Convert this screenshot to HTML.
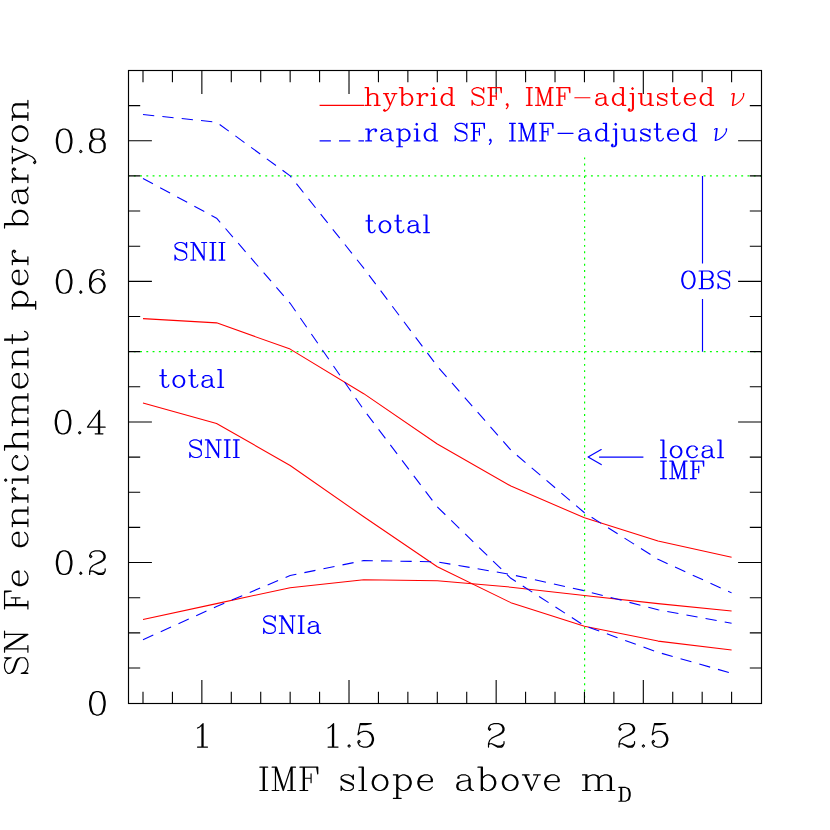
<!DOCTYPE html>
<html lang="en">
<head>
<meta charset="utf-8">
<title>SN Fe enrichment per baryon vs IMF slope above mD</title>
<style>
html,body{margin:0;padding:0;background:#fff;}
body{width:830px;height:830px;overflow:hidden;font-family:"Liberation Serif",serif;}
svg{display:block;}
svg text{font-family:"Liberation Serif",serif;fill:#000;fill-opacity:0;stroke:none;}
#glyphs use, defs path{vector-effect:non-scaling-stroke;}
</style>
</head>
<body>
<svg width="830" height="830" viewBox="0 0 830 830">
<rect width="830" height="830" fill="#fff"/>
<defs><path id="g0" d="M9 -21 6 -20 4 -17 3 -12 3 -9 4 -4 6 -1 9 0 7 -1 6 -2 5 -4 4 -9 4 -12 5 -17 6 -19 7 -20 9 -21 11 -21 14 -20 16 -17 17 -12 17 -9 16 -4 14 -1 11 0 13 -1 14 -2 15 -4 16 -9 16 -12 15 -17 14 -19 13 -20 11 -21M9 0 11 0"/><path id="g1" d="M5 -2 4 -1 5 0 6 -1 5 -2"/><path id="g2" d="M6 -3 11 0 15 0 16 -1 17 -3 17 -5M6 -3 11 -1 14 -1 16 -2 17 -3M6 -3 4 -3 3 -2M8 -9 13 -11 16 -13 17 -15 17 -17 16 -19 15 -20 12 -21 8 -21 5 -20 4 -19 3 -17 3 -16 4 -15 5 -16 4 -17M12 -21 14 -20 15 -19 16 -17 16 -15 15 -13 12 -11 6 -8 4 -6 3 -3 3 0"/><path id="g3" d="M13 0 13 -21 2 -6 18 -6M12 -19 12 0M9 0 16 0"/><path id="g4" d="M10 -21 7 -20 5 -18 4 -16 3 -12 3 -6 4 -3 6 -1 9 0 7 -1 5 -3 4 -6 4 -12 5 -16 6 -18 8 -20 10 -21 13 -21 15 -20 16 -18 16 -17 15 -16 14 -17 15 -18M11 -13 14 -12 16 -10 17 -7 17 -6 16 -3 14 -1 11 0 13 -1 15 -3 16 -6 16 -7 15 -10 13 -12 11 -13 10 -13 7 -12 5 -10 4 -7M9 0 11 0"/><path id="g5" d="M8 -21 12 -21 15 -20 16 -18 16 -15 15 -13 12 -12 8 -12 5 -13 4 -15 4 -18 5 -20 8 -21 6 -20 5 -18 5 -15 6 -13 8 -12 5 -11 4 -10 3 -8 3 -4 4 -2 5 -1 8 0 12 0 15 -1 16 -2 17 -4 17 -8 16 -10 15 -11 12 -12 14 -13 15 -15 15 -18 14 -20 12 -21M8 -12 6 -11 5 -10 4 -8 4 -4 5 -2 6 -1 8 0M12 -12 14 -11 15 -10 16 -8 16 -4 15 -2 14 -1 12 0"/><path id="g6" d="M11 0 11 -21 8 -18 6 -17M10 -20 10 0M6 0 15 0"/><path id="g7" d="M5 -20 10 -20 15 -21 5 -21 3 -11 5 -13 8 -14 11 -14 14 -13 16 -11 17 -8 17 -6 16 -3 14 -1 11 0 8 0 5 -1 4 -2 3 -4 3 -5 4 -6 5 -5 4 -4M11 -14 13 -13 15 -11 16 -8 16 -6 15 -3 13 -1 11 0"/><path id="g8" d="M5 -21 5 0M6 -21 6 0M2 -21 9 -21M2 0 9 0"/><path id="g9" d="M19 -21 12 0 5 -21 5 0M19 -21 19 0M19 -21 23 -21M20 -21 20 0M12 -3 6 -21 2 -21M16 0 23 0M2 0 8 0"/><path id="g10" d="M5 -21 5 0M6 -21 6 0M2 -21 18 -21 18 -15 17 -21M12 -15 12 -7M2 0 9 0M6 -11 12 -11"/><path id="g11" d="M13 -12 14 -14 14 -10 13 -12 12 -13 10 -14 6 -14 4 -13 3 -12 3 -10 4 -9 6 -8 11 -6 13 -5 14 -4M4 -2 3 -4 3 0 4 -2 5 -1 7 0 11 0 13 -1 14 -2 14 -5 13 -6 11 -7 6 -9 4 -10 3 -11"/><path id="g12" d="M5 -21 5 0M6 0 6 -21 2 -21M2 0 9 0"/><path id="g13" d="M9 -14 6 -13 4 -11 3 -8 3 -6 4 -3 6 -1 9 0 7 -1 5 -3 4 -6 4 -8 5 -11 7 -13 9 -14 11 -14 14 -13 16 -11 17 -8 17 -6 16 -3 14 -1 11 0 13 -1 15 -3 16 -6 16 -8 15 -11 13 -13 11 -14M9 0 11 0"/><path id="g14" d="M5 -14 5 7M6 7 6 -14 2 -14M2 7 9 7M12 -14 15 -13 17 -11 18 -8 18 -6 17 -3 15 -1 12 0 14 -1 16 -3 17 -6 17 -8 16 -11 14 -13 12 -14 10 -14 8 -13 6 -11M12 0 10 0 8 -1 6 -3"/><path id="g15" d="M4 -8 16 -8 16 -10 15 -12 14 -13 12 -14 9 -14 6 -13 4 -11 3 -8 3 -6 4 -3 6 -1 9 0 7 -1 5 -3 4 -6 4 -8 5 -11 7 -13 9 -14M9 0 11 0 14 -1 16 -3M15 -8 15 -11 14 -13"/><path id="g16" d="M14 -12 14 -3 12 -1 10 0 7 0 4 -1 3 -3 3 -5 4 -7 7 -8 13 -9 14 -10M14 -12 15 -10 15 -3 16 -1 17 0 15 -1 14 -3M14 -12 13 -13 11 -14 7 -14 5 -13 4 -12 4 -11 5 -11 5 -12M7 -8 5 -7 4 -5 4 -3 5 -1 7 0M17 0 18 0"/><path id="g17" d="M5 -21 5 0M6 0 6 -21 2 -21M12 -14 15 -13 17 -11 18 -8 18 -6 17 -3 15 -1 12 0 14 -1 16 -3 17 -6 17 -8 16 -11 14 -13 12 -14 10 -14 8 -13 6 -11M12 0 10 0 8 -1 6 -3"/><path id="g18" d="M3 -14 9 0 15 -14M4 -14 9 -2M1 -14 7 -14M11 -14 17 -14"/><path id="g19" d="M5 -14 5 0M6 0 6 -14 2 -14M16 0 16 -11 15 -13 13 -14 16 -13 17 -11 17 0M17 -11 19 -13 22 -14 24 -14 27 -13 28 -11 28 0M27 0 27 -11 26 -13 24 -14M2 0 9 0M13 0 20 0M24 0 31 0M13 -14 11 -14 8 -13 6 -11"/><path id="g20" d="M4 -13 4 0M5 -13 5 0M2 -13 9 -13 12 -12 13 -11 14 -8 14 -5 13 -2 12 -1 9 0 2 0M9 -13 11 -12 12 -11 13 -8 13 -5 12 -2 11 -1 9 0"/><path id="g21" d="M17 -7 17 -3 15 -1 12 0 9 0 6 -1 4 -3 3 -6 3 0 4 -3M17 -7 15 -9 13 -10 7 -12 5 -13 4 -14 3 -16 5 -14 7 -13 13 -11 15 -10 16 -9 17 -7M16 -18 17 -21 17 -15 16 -18 14 -20 11 -21 8 -21 5 -20 3 -18 3 -16"/><path id="g22" d="M18 -2 6 -21 2 -21M6 -19 18 0 18 -21M5 -21 5 0M15 -21 21 -21M2 0 8 0"/><path id="g23" d="M5 -14 5 0M6 0 6 -14 2 -14M16 0 16 -11 15 -13 13 -14 16 -13 17 -11 17 0M2 0 9 0M13 0 20 0M13 -14 11 -14 8 -13 6 -11"/><path id="g24" d="M5 -14 5 0M6 0 6 -14 2 -14M2 0 9 0M6 -8 7 -11 9 -13 11 -14 14 -14 15 -13 15 -12 14 -11 13 -12 14 -13"/><path id="g25" d="M5 -14 5 0M6 0 6 -14 2 -14M2 0 9 0M5 -21 4 -20 5 -19 6 -20 5 -21"/><path id="g26" d="M9 -14 6 -13 4 -11 3 -8 3 -6 4 -3 6 -1 9 0 7 -1 5 -3 4 -6 4 -8 5 -11 7 -13 9 -14 12 -14 14 -13 16 -11 16 -10 15 -9 14 -10 15 -11M9 0 11 0 14 -1 16 -3"/><path id="g27" d="M5 -21 5 0M6 0 6 -21 2 -21M16 0 16 -11 15 -13 13 -14 16 -13 17 -11 17 0M2 0 9 0M13 0 20 0M13 -14 11 -14 8 -13 6 -11"/><path id="g28" d="M5 -21 5 -4 6 -1 8 0 10 0 12 -1 13 -3M6 -21 6 -4 7 -1 8 0M2 -14 10 -14"/><path id="g29" d="M4 -14 10 0 16 -14M10 0 8 4 6 6 4 7 3 7 2 6 3 5 4 6M5 -14 10 -2M2 -14 8 -14M12 -14 18 -14"/><path id="g30" d="M15 -21 15 0 19 0M16 0 16 -21 12 -21M9 -14 6 -13 4 -11 3 -8 3 -6 4 -3 6 -1 9 0 7 -1 5 -3 4 -6 4 -8 5 -11 7 -13 9 -14 11 -14 13 -13 15 -11M9 0 11 0 13 -1 15 -3"/><path id="g31" d="M5 0 4 -1 5 -2 6 -1 6 1 5 3 4 4"/><path id="g32" d="M4 -9 22 -9"/><path id="g33" d="M6 -14 6 4 5 6 4 7 6 6 7 4 7 -14 3 -14M4 7 2 7 1 6 1 5 2 4 3 5 2 6M6 -21 5 -20 6 -19 7 -20 6 -21"/><path id="g34" d="M16 -14 16 0 20 0M17 0 17 -14 13 -14M5 -14 5 -3 6 -1 9 0 7 -1 6 -3 6 -14 2 -14M9 0 11 0 14 -1 16 -3"/><path id="g35" d="M0 -13.3 1.5 -14.3 3.2 -14.3 2.3 -7 1.4 0 0.8 0 1.6 -7 2.4 -14.3M1.4 0 5.5 -1.5 9.5 -4.5 12.6 -8 14.2 -11.5 14.6 -14.2 13.8 -14.2 14.2 -11.5"/><path id="g36" d="M10 -21 7 -20 5 -18 4 -16 3 -12 3 -9 4 -5 5 -3 7 -1 10 0 8 -1 6 -3 5 -5 4 -9 4 -12 5 -16 6 -18 8 -20 10 -21 12 -21 15 -20 17 -18 18 -16 19 -12 19 -9 18 -5 17 -3 15 -1 12 0 14 -1 16 -3 17 -5 18 -9 18 -12 17 -16 16 -18 14 -20 12 -21M10 0 12 0"/><path id="g37" d="M5 -21 5 0M6 -21 6 0M2 -21 14 -21 17 -20 18 -19 19 -17 19 -15 18 -13 17 -12 14 -11 6 -11M14 -21 16 -20 17 -19 18 -17 18 -15 17 -13 16 -12 14 -11 17 -10 18 -9 19 -7 19 -4 18 -2 17 -1 14 0 2 0M14 0 16 -1 17 -2 18 -4 18 -7 17 -9 16 -10 14 -11"/><path id="g38" d="M20 -18 4 -9 20 0"/></defs>
<g id="plot">
<path d="M128 175.9H761.5" stroke="#00ff00" stroke-width="1.2" stroke-dasharray="1.9 4.362" stroke-dashoffset="0.45" fill="none"/>
<path d="M128 351.65H761.5" stroke="#00ff00" stroke-width="1.2" stroke-dasharray="1.9 4.362" stroke-dashoffset="0.45" fill="none"/>
<path d="M584.6 704V157.5" stroke="#00ff00" stroke-width="1.2" stroke-dasharray="1.9 4.362" fill="none"/>
<rect x="128.5" y="70.5" width="633" height="633" fill="none" stroke="#000" stroke-width="1.15"/>
<path d="M143 703.5v-11.7M143 70.5v11.7M172.43 703.5v-11.7M172.43 70.5v11.7M201.86 703.5v-23.4M201.86 70.5v23.4M231.29 703.5v-11.7M231.29 70.5v11.7M260.72 703.5v-11.7M260.72 70.5v11.7M290.15 703.5v-11.7M290.15 70.5v11.7M319.58 703.5v-11.7M319.58 70.5v11.7M349.01 703.5v-23.4M349.01 70.5v23.4M378.44 703.5v-11.7M378.44 70.5v11.7M407.87 703.5v-11.7M407.87 70.5v11.7M437.3 703.5v-11.7M437.3 70.5v11.7M466.73 703.5v-11.7M466.73 70.5v11.7M496.16 703.5v-23.4M496.16 70.5v23.4M525.59 703.5v-11.7M525.59 70.5v11.7M555.02 703.5v-11.7M555.02 70.5v11.7M584.45 703.5v-11.7M584.45 70.5v11.7M613.88 703.5v-11.7M613.88 70.5v11.7M643.31 703.5v-23.4M643.31 70.5v23.4M672.74 703.5v-11.7M672.74 70.5v11.7M702.17 703.5v-11.7M702.17 70.5v11.7M731.6 703.5v-11.7M731.6 70.5v11.7M128.5 668h11.7M761.5 668h-11.7M128.5 632.85h11.7M761.5 632.85h-11.7M128.5 597.7h11.7M761.5 597.7h-11.7M128.5 562.55h23.4M761.5 562.55h-23.4M128.5 527.4h11.7M761.5 527.4h-11.7M128.5 492.25h11.7M761.5 492.25h-11.7M128.5 457.1h11.7M761.5 457.1h-11.7M128.5 421.95h23.4M761.5 421.95h-23.4M128.5 386.8h11.7M761.5 386.8h-11.7M128.5 351.65h11.7M761.5 351.65h-11.7M128.5 316.5h11.7M761.5 316.5h-11.7M128.5 281.35h23.4M761.5 281.35h-23.4M128.5 246.2h11.7M761.5 246.2h-11.7M128.5 211.05h11.7M761.5 211.05h-11.7M128.5 175.9h11.7M761.5 175.9h-11.7M128.5 140.75h23.4M761.5 140.75h-23.4M128.5 105.6h11.7M761.5 105.6h-11.7" stroke="#000" stroke-width="1.1" fill="none"/>
<path d="M143 318.64 216.57 322.86 290.15 349.09 363.73 393.68 437.3 443.97 510.87 486.03 584.45 517.82 658.02 541.03 731.6 557.35" stroke="#ff0000" stroke-width="1.05" fill="none" stroke-linejoin="round"/>
<path d="M143 402.97 216.57 423.43 290.15 465.49 363.73 516.76 437.3 566.7 510.87 602.64 584.45 626.2 658.02 641.11 731.6 649.98" stroke="#ff0000" stroke-width="1.05" fill="none" stroke-linejoin="round"/>
<path d="M143 619.59 216.57 603.63 290.15 587.66 363.73 579.85 437.3 580.84 510.87 587.17 584.45 595.54 658.02 603.63 731.6 611.01" stroke="#ff0000" stroke-width="1.05" fill="none" stroke-linejoin="round"/>
<path d="M143 114.53 216.57 122.2 290.15 175.86 363.73 268.14 437.3 366.25 510.87 450.09 584.45 512.76 658.02 559.32 731.6 592.87" stroke="#0000ff" stroke-width="1.08" fill="none" stroke-dasharray="11.3 8.15" stroke-linejoin="round"/>
<path d="M143 178.46 216.57 218.2 290.15 303.3 363.73 409.72 437.3 506.92 510.87 578.31 584.45 625.71 658.02 652.3 731.6 673.26" stroke="#0000ff" stroke-width="1.08" fill="none" stroke-dasharray="11.3 8.15" stroke-linejoin="round"/>
<path d="M143 639.64 216.57 606.44 290.15 575.49 363.73 560.58 437.3 561.85 510.87 574.51 584.45 590.76 658.02 609.75 731.6 623.18" stroke="#0000ff" stroke-width="1.08" fill="none" stroke-dasharray="11.3 8.15" stroke-linejoin="round"/>
<path d="M319.58 105.3H364.12" stroke="#ff0000" stroke-width="1.15" fill="none"/>
<path d="M319.58 140.9H363.93" stroke="#0000ff" stroke-width="1.15" fill="none" stroke-dasharray="11.3 8.15"/>
<path d="M702.5 175.9V263.6M702.5 298.9V351.65" stroke="#0000ff" stroke-width="1.15" fill="none"/>
<path d="M599.1 457.1H643.4" stroke="#0000ff" stroke-width="1.15" fill="none"/>
</g>
<g id="glyphs" fill="none" stroke-width="1.2" stroke-linecap="round" stroke-linejoin="round">
<g transform="translate(86.31 715.05) scale(1.1080 1.1200)" stroke="#000"><use href="#g0" x="0"/></g>
<g transform="translate(53.07 574.45) scale(1.1080 1.1200)" stroke="#000"><use href="#g0" x="0"/><use href="#g1" x="20"/><use href="#g2" x="30"/></g>
<g transform="translate(51.97 433.85) scale(1.1080 1.1200)" stroke="#000"><use href="#g0" x="0"/><use href="#g1" x="20"/><use href="#g3" x="30"/></g>
<g transform="translate(53.07 293.25) scale(1.1080 1.1200)" stroke="#000"><use href="#g0" x="0"/><use href="#g1" x="20"/><use href="#g4" x="30"/></g>
<g transform="translate(53.07 152.65) scale(1.1080 1.1200)" stroke="#000"><use href="#g0" x="0"/><use href="#g1" x="20"/><use href="#g5" x="30"/></g>
<g transform="translate(190.88 747.1) scale(1.1080 1.1200)" stroke="#000"><use href="#g6" x="0"/></g>
<g transform="translate(321.41 747.1) scale(1.1080 1.1200)" stroke="#000"><use href="#g6" x="0"/><use href="#g1" x="20"/><use href="#g7" x="30"/></g>
<g transform="translate(485.18 747.1) scale(1.1080 1.1200)" stroke="#000"><use href="#g2" x="0"/></g>
<g transform="translate(615.71 747.1) scale(1.1080 1.1200)" stroke="#000"><use href="#g2" x="0"/><use href="#g1" x="20"/><use href="#g7" x="30"/></g>
<g transform="translate(257.67 790.5) scale(1.1125 1.1120)" stroke="#000"><use href="#g8" x="0"/><use href="#g9" x="11"/><use href="#g10" x="36"/><use href="#g11" x="72"/><use href="#g12" x="89"/><use href="#g13" x="100"/><use href="#g14" x="120"/><use href="#g15" x="141"/><use href="#g16" x="176"/><use href="#g17" x="196"/><use href="#g13" x="217"/><use href="#g18" x="237"/><use href="#g15" x="255"/><use href="#g19" x="290"/></g>
<g transform="translate(616.96 801.15) scale(0.9458 1.0577)" stroke="#000" stroke-width="1.05"><use href="#g20" x="0"/></g>
<g transform="translate(27.9 676.65) rotate(-90) scale(1.1103 1.1120)" stroke="#000"><use href="#g21" x="0"/><use href="#g22" x="20"/><use href="#g10" x="59"/><use href="#g15" x="79"/><use href="#g15" x="114"/><use href="#g23" x="133"/><use href="#g24" x="155"/><use href="#g25" x="172"/><use href="#g26" x="183"/><use href="#g27" x="202"/><use href="#g19" x="224"/><use href="#g15" x="257"/><use href="#g23" x="276"/><use href="#g28" x="298"/><use href="#g14" x="329"/><use href="#g15" x="350"/><use href="#g24" x="369"/><use href="#g17" x="402"/><use href="#g16" x="423"/><use href="#g24" x="443"/><use href="#g29" x="460"/><use href="#g13" x="479"/><use href="#g23" x="499"/></g>
<g transform="translate(363.43 105.3) scale(0.8357 0.8370)" stroke="#ff0000"><use href="#g27" x="0"/><use href="#g29" x="22"/><use href="#g17" x="41"/><use href="#g24" x="62"/><use href="#g25" x="79"/><use href="#g30" x="90"/><use href="#g21" x="127"/><use href="#g10" x="147"/><use href="#g31" x="167"/><use href="#g8" x="193"/><use href="#g9" x="204"/><use href="#g10" x="229"/><use href="#g32" x="249"/><use href="#g16" x="275"/><use href="#g30" x="295"/><use href="#g33" x="316"/><use href="#g34" x="327"/><use href="#g11" x="349"/><use href="#g28" x="366"/><use href="#g15" x="381"/><use href="#g30" x="400"/></g>
<g transform="translate(364.03 140.9) scale(0.8361 0.8370)" stroke="#0000ff"><use href="#g24" x="0"/><use href="#g16" x="17"/><use href="#g14" x="37"/><use href="#g25" x="58"/><use href="#g30" x="69"/><use href="#g21" x="106"/><use href="#g10" x="126"/><use href="#g31" x="146"/><use href="#g8" x="172"/><use href="#g9" x="183"/><use href="#g10" x="208"/><use href="#g32" x="228"/><use href="#g16" x="254"/><use href="#g30" x="274"/><use href="#g33" x="295"/><use href="#g34" x="306"/><use href="#g11" x="328"/><use href="#g28" x="345"/><use href="#g15" x="360"/><use href="#g30" x="379"/></g>
<g transform="translate(731.7 105.4) scale(0.8370 0.8370)" stroke="#ff0000" stroke-width="1.05"><use href="#g35" x="0"/></g>
<g transform="translate(714.5 140.55) scale(0.8370 0.8370)" stroke="#0000ff" stroke-width="1.05"><use href="#g35" x="0"/></g>
<g transform="translate(364.35 232.6) scale(0.8234 0.8370)" stroke="#0000ff"><use href="#g28" x="0"/><use href="#g13" x="15"/><use href="#g28" x="35"/><use href="#g16" x="50"/><use href="#g12" x="70"/></g>
<g transform="translate(172.5 260.1) scale(0.8317 0.8370)" stroke="#0000ff"><use href="#g21" x="0"/><use href="#g22" x="20"/><use href="#g8" x="43"/><use href="#g8" x="54"/></g>
<g transform="translate(158.14 387.3) scale(0.8286 0.8370)" stroke="#0000ff"><use href="#g28" x="0"/><use href="#g13" x="15"/><use href="#g28" x="35"/><use href="#g16" x="50"/><use href="#g12" x="70"/></g>
<g transform="translate(187.33 457.5) scale(0.8233 0.8370)" stroke="#0000ff"><use href="#g21" x="0"/><use href="#g22" x="20"/><use href="#g8" x="43"/><use href="#g8" x="54"/></g>
<g transform="translate(261.23 633.4) scale(0.8246 0.8370)" stroke="#0000ff"><use href="#g21" x="0"/><use href="#g22" x="20"/><use href="#g8" x="43"/><use href="#g16" x="54"/></g>
<g transform="translate(679.33 288.6) scale(0.8241 0.8370)" stroke="#0000ff"><use href="#g36" x="0"/><use href="#g37" x="22"/><use href="#g21" x="44"/></g>
<g transform="translate(658.97 457.7) scale(0.8156 0.8370)" stroke="#0000ff"><use href="#g12" x="0"/><use href="#g13" x="11"/><use href="#g26" x="31"/><use href="#g16" x="50"/><use href="#g12" x="70"/></g>
<g transform="translate(658.94 478.7) scale(0.8288 0.8370)" stroke="#0000ff"><use href="#g8" x="0"/><use href="#g9" x="11"/><use href="#g10" x="36"/></g>
<g transform="translate(584.83 464.6) scale(0.8188 0.8333)" stroke="#0000ff"><use href="#g38" x="0"/></g>
</g>
<g id="labels">
<text x="108" y="714.15" font-size="30" text-anchor="end">0</text>
<text x="108" y="573.55" font-size="30" text-anchor="end">0.2</text>
<text x="108" y="432.95" font-size="30" text-anchor="end">0.4</text>
<text x="108" y="292.35" font-size="30" text-anchor="end">0.6</text>
<text x="108" y="151.75" font-size="30" text-anchor="end">0.8</text>
<text x="201.86" y="747" font-size="30" text-anchor="middle">1</text>
<text x="349.01" y="747" font-size="30" text-anchor="middle">1.5</text>
<text x="496.16" y="747" font-size="30" text-anchor="middle">2</text>
<text x="643.31" y="747" font-size="30" text-anchor="middle">2.5</text>
<text x="258" y="790" font-size="30" text-anchor="start">IMF slope above m<tspan font-size="18" dy="10">D</tspan></text>
<text x="29" y="677" font-size="30" text-anchor="start" transform="rotate(-90 29 677)">SN Fe enrichment per baryon</text>
<text x="364" y="105" font-size="23" text-anchor="start">hybrid SF, IMF−adjusted ν</text>
<text x="364" y="140" font-size="23" text-anchor="start">rapid SF, IMF−adjusted ν</text>
<text x="365" y="231" font-size="23" text-anchor="start">total</text>
<text x="173" y="260" font-size="23" text-anchor="start">SNII</text>
<text x="159" y="387" font-size="23" text-anchor="start">total</text>
<text x="188" y="458" font-size="23" text-anchor="start">SNII</text>
<text x="262" y="633" font-size="23" text-anchor="start">SNIa</text>
<text x="680" y="288" font-size="23" text-anchor="start">OBS</text>
<text x="660" y="457" font-size="23" text-anchor="start">local</text>
<text x="660" y="478" font-size="23" text-anchor="start">IMF</text>
</g>
</svg>
</body>
</html>
